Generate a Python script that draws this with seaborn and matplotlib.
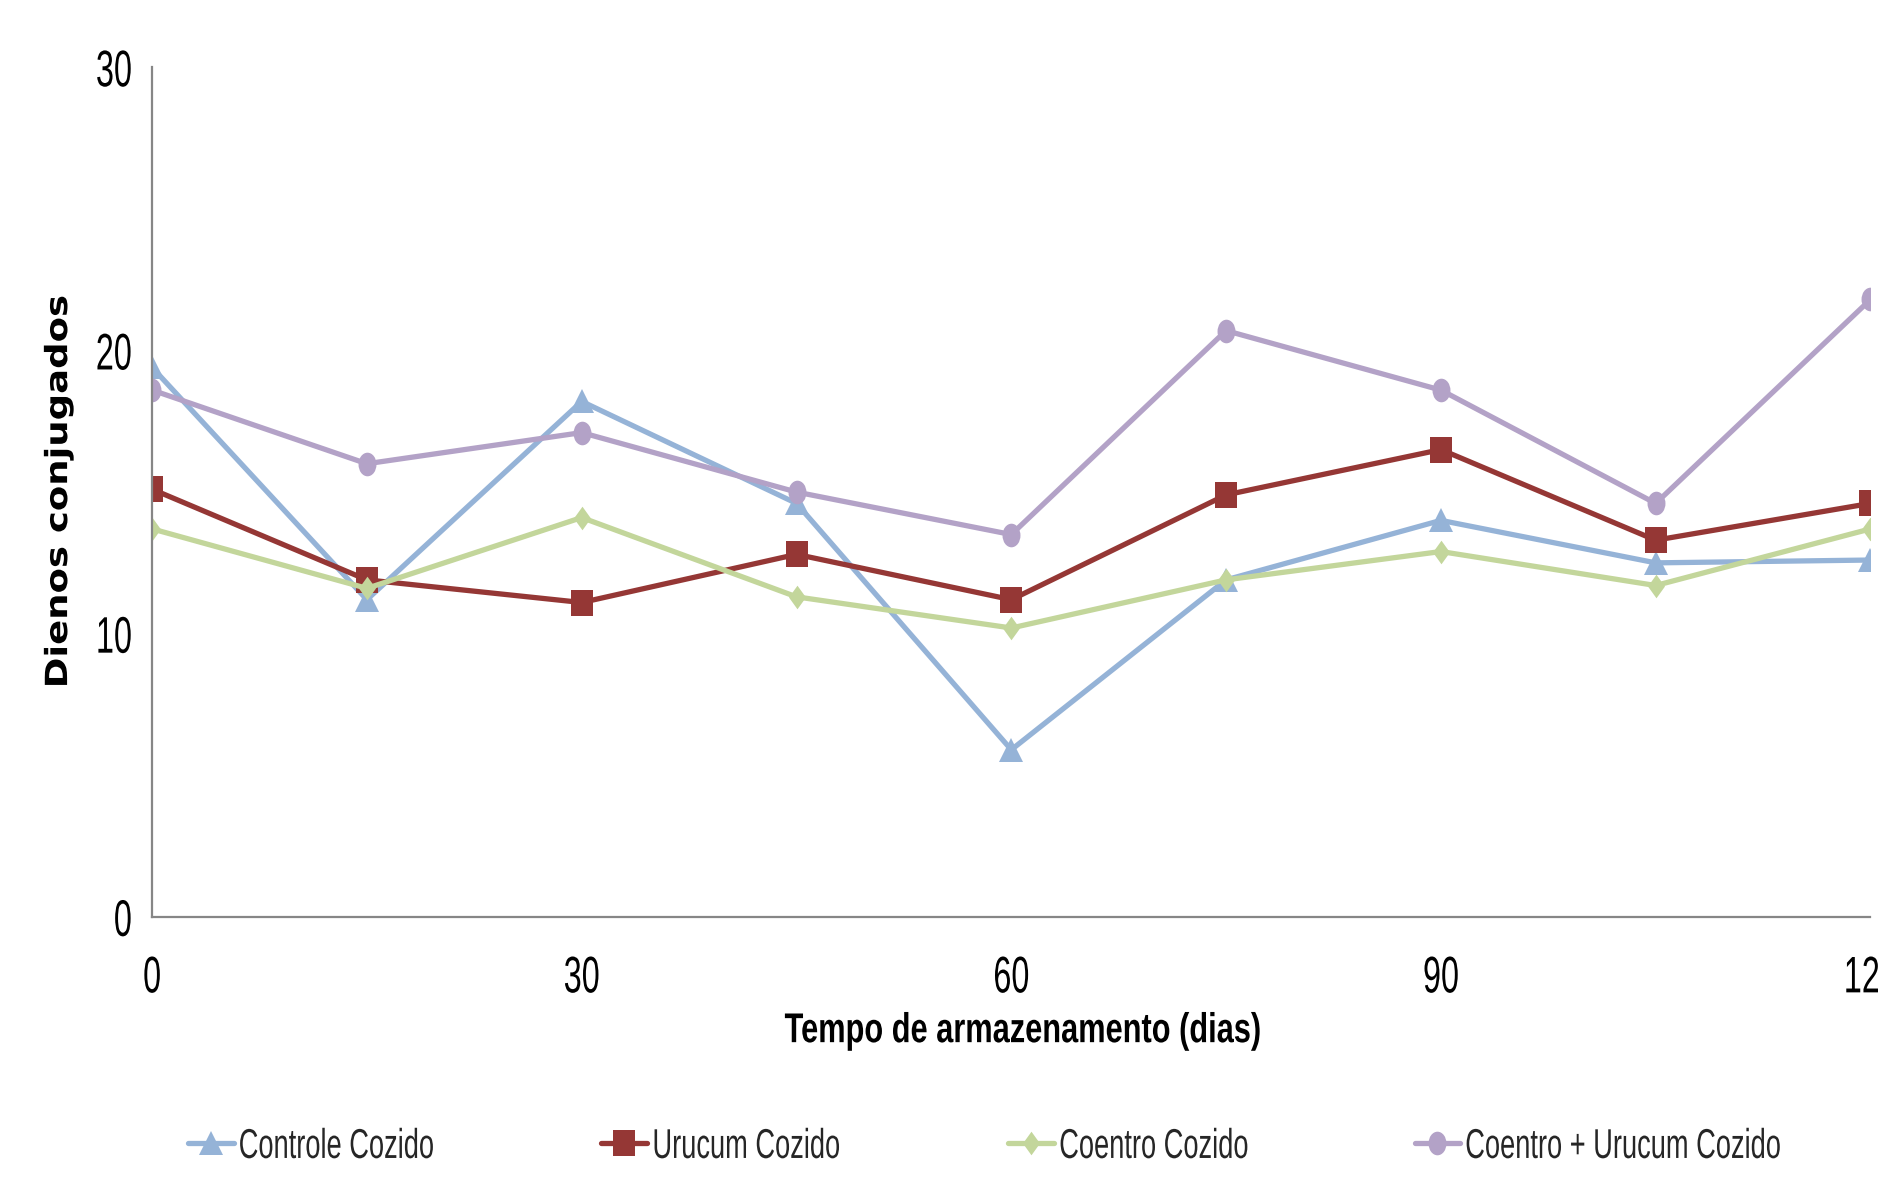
import pandas as pd
import numpy as np
import matplotlib
matplotlib.use("Agg")
import matplotlib.pyplot as plt
import seaborn as sns
from matplotlib.path import Path
from matplotlib.patheffects import AbstractPathEffect
from matplotlib.transforms import Affine2D

# dias de armazenamento
dias = [0, 15, 30, 45, 60, 75, 90, 105, 120]

controle = [19.4, 11.2, 18.2, 14.6, 5.9, 11.9, 14.0, 12.5, 12.6]
urucum = [15.1, 11.9, 11.1, 12.8, 11.2, 14.9, 16.5, 13.3, 14.6]
coentro = [13.7, 11.6, 14.1, 11.3, 10.2, 11.9, 12.9, 11.7, 13.7]
coentro_urucum = [18.6, 16.0, 17.1, 15.0, 13.5, 20.7, 18.6, 14.6, 21.8]

series = ["Controle Cozido", "Urucum Cozido", "Coentro Cozido", "Coentro + Urucum Cozido"]
yticks = [0, 10, 20, 30]
xticks = [0, 30, 60, 90, 120]

cores = {"Controle Cozido": "#95B3D7", "Urucum Cozido": "#953735",
         "Coentro Cozido": "#C3D69B", "Coentro + Urucum Cozido": "#B3A2C7"}

# marcadores um pouco "altos", como no grafico original
circ = Path.unit_circle()
elipse = Path(circ.vertices * [0.76, 1.0], circ.codes)
quadrado = Path([(-0.82, -1), (0.82, -1), (0.82, 1), (-0.82, 1), (-0.82, -1)], closed=True)
losango = Path([(0, -1), (0.72, 0), (0, 1), (-0.72, 0), (0, -1)], closed=True)
marcadores = {"Controle Cozido": "^", "Urucum Cozido": quadrado,
              "Coentro Cozido": losango, "Coentro + Urucum Cozido": elipse}
tamanhos = {"Controle Cozido": 17, "Urucum Cozido": 19,
            "Coentro Cozido": 17, "Coentro + Urucum Cozido": 17}

df = pd.DataFrame({
    "dias": dias * 4,
    "valor": controle + urucum + coentro + coentro_urucum,
    "serie": sum([[s] * len(dias) for s in series], []),
})


# texto estreito (tipo Arial Narrow): comprime/estica o texto em volta de um ponto
class Estreito(AbstractPathEffect):
    def __init__(self, sx=0.7, anchor="center", sy=1.0):
        super().__init__()
        self.sx = sx
        self.sy = sy
        self.anchor = anchor

    def draw_path(self, renderer, gc, tpath, affine, rgbFace=None):
        ext = tpath.get_extents(affine)
        if self.anchor == "right":
            x0 = ext.x1
        elif self.anchor == "left":
            x0 = ext.x0
        else:
            x0 = (ext.x0 + ext.x1) / 2
        y0 = (ext.y0 + ext.y1) / 2
        t = affine + Affine2D().translate(-x0, -y0).scale(self.sx, self.sy).translate(x0, y0)
        renderer.draw_path(gc, tpath, t, rgbFace)


sns.set_style("white")
plt.rcParams["font.family"] = ["Liberation Sans", "DejaVu Sans"]

fig = plt.figure(figsize=(18.78, 11.8), dpi=100)
ax = fig.add_axes([0.081, 0.223, 0.915, 0.72])

for s in series:
    sub = df[df["serie"] == s]
    sns.lineplot(data=sub, x="dias", y="valor", ax=ax, color=cores[s],
                 marker=marcadores[s], markersize=tamanhos[s],
                 markeredgewidth=0, linewidth=3.8, label=s, legend=False)

ax.set_xlim(0, 120)
ax.set_ylim(0, 30)
ax.set_xticks(xticks)
ax.set_yticks(yticks)
ax.tick_params(axis="both", labelsize=37, labelcolor="black", direction="out")
ax.tick_params(axis="y", length=7, width=1.3, color="#868686", pad=7)
ax.tick_params(axis="x", length=12, width=1.3, color="#868686", pad=15)
for sp in ["top", "right"]:
    ax.spines[sp].set_visible(False)
for sp in ["left", "bottom"]:
    ax.spines[sp].set_color("#868686")
    ax.spines[sp].set_linewidth(1.6)

ax.set_ylabel("Dienos conjugados", fontsize=22, fontweight="bold",
              family=["DejaVu Sans"], color="black")
ax.yaxis.set_label_coords(-0.046, 0.5)
ax.set_xlabel("Tempo de armazenamento (dias)", fontsize=30, fontweight="bold",
              color="black")
ax.xaxis.set_label_coords(0.507, -0.111)

# legenda: uma entrada por posicao, como no original
leg_x = [0.1001, 0.3202, 0.537, 0.7532]
legendas = []
for s, xl in zip(series, leg_x):
    h = ax.get_lines()[series.index(s)]
    lg = fig.legend([h], [s], loc="center left", bbox_to_anchor=(xl, 0.028),
                    frameon=False, fontsize=30, handlelength=1.1,
                    handletextpad=0.1, borderpad=0, borderaxespad=0)
    legendas.append(lg)

# mede os textos e aplica a compressao
fig.canvas.draw()
r = fig.canvas.get_renderer()
w30 = [t for t in ax.get_yticklabels() if t.get_text() == "30"][0].get_window_extent(r).width
sx_tick = 36 / w30
for t in ax.get_yticklabels():
    t.set_path_effects([Estreito(sx_tick, "right")])
for t in ax.get_xticklabels():
    t.set_path_effects([Estreito(sx_tick, "center")])

xl_lab = ax.xaxis.label
xl_lab.set_path_effects([Estreito(477 / xl_lab.get_window_extent(r).width, "center")])

yl_lab = ax.yaxis.label
yl_lab.set_path_effects([Estreito(1.0, "center", 392 / yl_lab.get_window_extent(r).height)])

wleg = legendas[0].get_texts()[0].get_window_extent(r).width
sx_leg = 195 / wleg
for lg in legendas:
    for t in lg.get_texts():
        t.set_path_effects([Estreito(sx_leg, "left")])

fig.savefig("out.png", dpi=100)
